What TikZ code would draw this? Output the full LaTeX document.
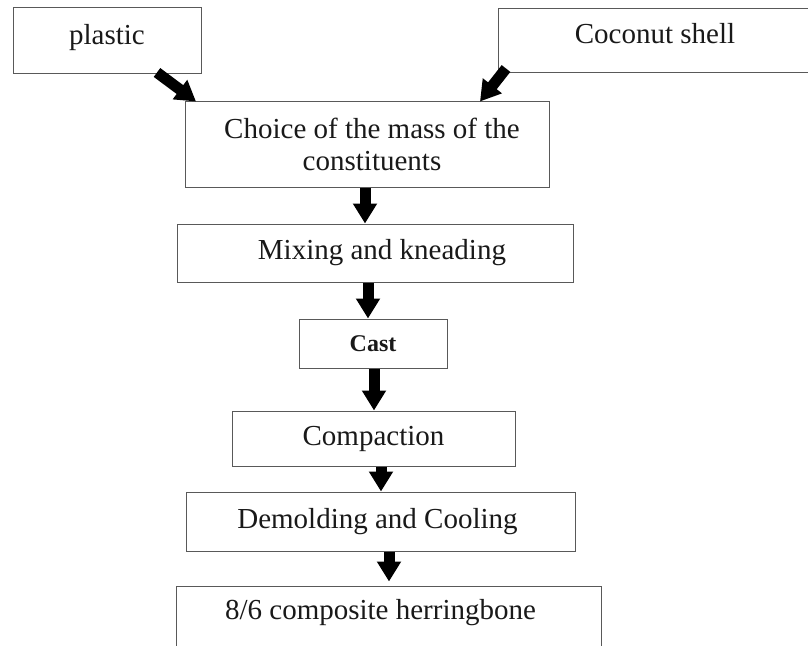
\documentclass[tikz,border=0pt]{standalone}
\usepackage{fontspec}
\setmainfont{Liberation Serif}
\usetikzlibrary{arrows.meta,calc}
\begin{document}
\begin{tikzpicture}[x=1pt,y=-1pt,
  box/.style={draw=black!65,line width=1pt,rectangle,inner sep=0pt,align=center,
    font=\fontsize{29}{32}\selectfont,text=black!90},
  flow/.style={line width=11pt,-{Triangle[width=23pt,length=20pt]},black}]
\clip (0,0) rectangle (808,645);
\useasboundingbox (0,0) rectangle (808,645);
\fill[white] (0,0) rectangle (808,645);
\node[box,minimum width=188,minimum height=66] (plastic) at (107,40) {plastic\rule[-12pt]{0pt}{0pt}};
\node[box,minimum width=314,minimum height=64] (coco) at (655,40) {Coconut shell\rule[-14pt]{0pt}{0pt}};
\node[box,minimum width=364,minimum height=86] (choice) at (367,144) {\hspace*{10pt}Choice of the mass of the\\\hspace*{10pt}constituents};
\node[box,minimum width=396,minimum height=58] (mix) at (375,253) {\hspace*{14pt}Mixing and kneading};
\node[box,minimum width=148,minimum height=49,font=\fontsize{24}{28}\selectfont\bfseries] (cast) at (373,343.5) {Cast};
\node[box,minimum width=283,minimum height=55] (comp) at (373.5,438.5) {Compaction\rule[-6pt]{0pt}{0pt}};
\node[box,minimum width=389,minimum height=59] (dem) at (380.5,521.5) {Demolding and Cooling\hspace*{6pt}};
\node[box,minimum width=425,minimum height=80] (out) at (388.5,626) {};
\node[box,draw=none] (outtext) at ($(out.north)+(-8,27)$) {8/6 composite herringbone};
\draw[flow] ($(plastic.south)+(50,-1)$) -- ($(choice.north)+(-171,1)$);
\draw[flow] ($(coco.south)+(-149,-4)$) -- ($(choice.north)+(113,1)$);
\draw[flow] ($(choice.south)+(-2,0)$) -- ($(mix.north)+(-10,0)$);
\draw[flow] ($(mix.south)+(-7,0)$) -- ($(cast.north)+(-5,0)$);
\draw[flow] ($(cast.south)+(1,0)$) -- ($(comp.north)+(0.5,0)$);
\draw[flow] ($(comp.south)+(7.5,0)$) -- ($(dem.north)+(0.5,0)$);
\draw[flow] ($(dem.south)+(8.5,0)$) -- ($(out.north)+(0.5,-4)$);
\end{tikzpicture}
\end{document}
